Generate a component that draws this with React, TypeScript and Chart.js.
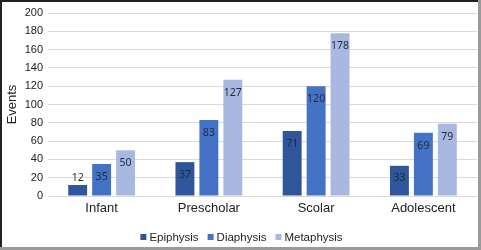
import React, { useEffect, useRef } from "react";
import { Chart, registerables } from "chart.js";

Chart.register(...registerables);

const categories = ["Infant", "Prescholar", "Scolar", "Adolescent"];
const epiphysis = [12, 37, 71, 33];
const diaphysis = [35, 83, 120, 69];
const metaphysis = [50, 127, 178, 79];
const seriesNames = ["Epiphysis", "Diaphysis", "Metaphysis"];
const seriesColors = ["#2f559a", "#4472c4", "#a8b8e0"];

const FONT = "'Liberation Sans', Arial, sans-serif";

const labelPlugin = {
  id: "barLabels",
  afterDatasetsDraw(chart: any) {
    const ctx = chart.ctx;
    const yScale = chart.scales.y;
    const base = yScale.getPixelForValue(0);
    ctx.save();
    ctx.font = "10.5px 'Noto Sans'";
    ctx.fillStyle = "#1f2a3a";
    ctx.textAlign = "center";
    ctx.textBaseline = "middle";
    chart.data.datasets.forEach((ds: any, i: number) => {
      const meta = chart.getDatasetMeta(i);
      meta.data.forEach((bar: any, j: number) => {
        const y = Math.min(bar.y + 13, base - 18);
        ctx.fillText(String(ds.data[j]), bar.x, y);
      });
    });
    ctx.restore();
  },
};

const legendPlugin = {
  id: "customLegend",
  afterDraw(chart: any) {
    const ctx = chart.ctx;
    ctx.save();
    ctx.font = "11.5px " + FONT;
    ctx.textBaseline = "middle";
    ctx.textAlign = "left";
    const box = 6;
    const gapBox = 3;
    const gapItem = 9;
    const items = chart.data.datasets.map((ds: any) => ({
      label: ds.label,
      color: ds.backgroundColor,
      w: ctx.measureText(ds.label).width,
    }));
    const total =
      items.reduce((s: number, it: any) => s + box + gapBox + it.w, 0) +
      gapItem * (items.length - 1);
    let x = chart.width / 2 - total / 2 + 1;
    const y = 237;
    items.forEach((it: any) => {
      ctx.fillStyle = it.color;
      ctx.fillRect(x, y - box / 2, box, box);
      x += box + gapBox;
      ctx.fillStyle = "#222";
      ctx.fillText(it.label, x, y + 0.5);
      x += it.w + gapItem;
    });
    ctx.restore();
  },
};

const borderPlugin = {
  id: "frame",
  afterDraw(chart: any) {
    const ctx = chart.ctx;
    const w = chart.width;
    const h = chart.height;
    ctx.save();
    ctx.fillStyle = "#222222";
    ctx.fillRect(0, 0, w, 2);
    ctx.fillRect(0, 0, 2, h);
    ctx.fillStyle = "#9a9a9a";
    ctx.fillRect(w - 3, 0, 3, h);
    ctx.fillRect(0, h - 3, w, 3);
    ctx.restore();
  },
};

const bgPlugin = {
  id: "bg",
  beforeDraw(chart: any) {
    const ctx = chart.ctx;
    ctx.save();
    ctx.fillStyle = "#ffffff";
    ctx.fillRect(0, 0, chart.width, chart.height);
    ctx.restore();
  },
};

export default function App() {
  const ref = useRef<HTMLCanvasElement>(null);
  useEffect(() => {
    document.body.style.margin = "0";
    const values = [epiphysis, diaphysis, metaphysis];
    const chart = new Chart(ref.current!, {
      type: "bar",
      data: {
        labels: categories,
        datasets: seriesNames.map((name, i) => ({
          label: name,
          data: values[i],
          backgroundColor: seriesColors[i],
          categoryPercentage: 0.67,
          barPercentage: 0.79,
        })),
      },
      options: {
        responsive: false,
        animation: false,
        layout: { padding: { top: 13, right: 4, left: 0, bottom: 26 } },
        scales: {
          x: {
            grid: { display: false, drawTicks: false },
            border: { display: false },
            ticks: {
              color: "#222",
              font: { family: FONT, size: 13 },
              padding: 5,
            },
            afterFit(scale: any) {
              scale.height = 28;
            },
          },
          y: {
            min: 0,
            max: 200,
            ticks: {
              stepSize: 20,
              color: "#222",
              font: { family: FONT, size: 11 },
              padding: 5,
            },
            grid: { color: "#d9d9d9", drawTicks: false },
            border: { display: false },
            title: {
              display: true,
              text: "Events",
              color: "#222",
              font: { family: FONT, size: 13 },
              padding: { top: 5, bottom: 2 },
            },
            afterFit(scale: any) {
              scale.width = 48;
            },
          },
        },
        plugins: {
          legend: { display: false },
          tooltip: { enabled: false },
        },
      },
      plugins: [bgPlugin, labelPlugin, legendPlugin, borderPlugin],
    });
    return () => chart.destroy();
  }, []);
  return <canvas ref={ref} width={481} height={250} />;
}
